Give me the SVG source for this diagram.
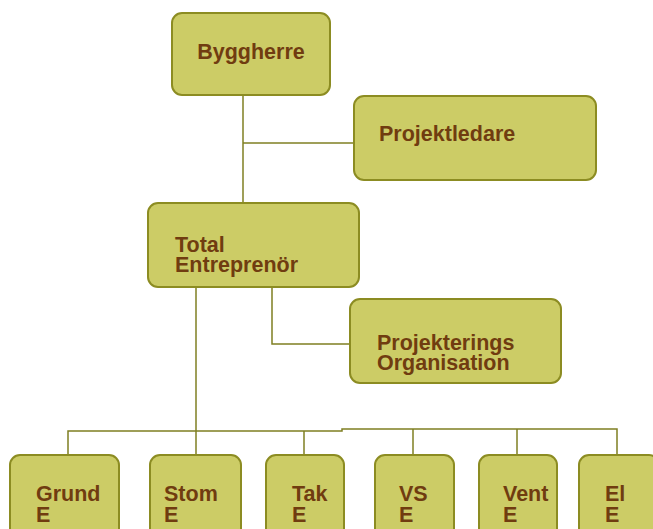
<svg xmlns="http://www.w3.org/2000/svg" width="653" height="529" viewBox="0 0 653 529">
<style>
.box{fill:#CCCC66;stroke:#8C8C22;stroke-width:2}
.t{font-family:"Liberation Sans",Arial,sans-serif;font-weight:bold;font-size:21.5px;fill:#703C10}
.c{fill:none;stroke:#7F7F22;stroke-width:1.5}
</style>
<rect width="653" height="529" fill="#FFFFFF"/>
<g id="connectors">
<path class="c" d="M243 95V203"/>
<path class="c" d="M243 143H354"/>
<path class="c" d="M272 287V344H350"/>
<path class="c" d="M196 287V455"/>
<path class="c" d="M68 455V431H342V429H617V455"/>
<path class="c" d="M304 431V455"/>
<path class="c" d="M413 429V455"/>
<path class="c" d="M517 429V455"/>
</g>
<g id="byggherre"><rect class="box" x="172" y="13" width="158" height="82" rx="10"/><text class="t" x="251" y="59" text-anchor="middle">Byggherre</text></g>
<g id="projektledare"><rect class="box" x="354" y="96" width="242" height="84" rx="10"/><text class="t" x="379" y="141">Projektledare</text></g>
<g id="total"><rect class="box" x="148" y="203" width="211" height="84" rx="10"/><text class="t" x="175" y="252">Total<tspan x="175" dy="20">Entreprenör</tspan></text></g>
<g id="projektering"><rect class="box" x="350" y="299" width="211" height="84" rx="10"/><text class="t" x="377" y="350">Projekterings<tspan x="377" dy="20">Organisation</tspan></text></g>
<g id="grund"><rect class="box" x="10" y="455" width="109" height="90" rx="10"/><text class="t" x="36" y="501">Grund<tspan x="36" dy="21">E</tspan></text></g>
<g id="stom"><rect class="box" x="150" y="455" width="91" height="90" rx="10"/><text class="t" x="164" y="501">Stom<tspan x="164" dy="21">E</tspan></text></g>
<g id="tak"><rect class="box" x="266" y="455" width="78" height="90" rx="10"/><text class="t" x="292" y="501">Tak<tspan x="292" dy="21">E</tspan></text></g>
<g id="vs"><rect class="box" x="375" y="455" width="79" height="90" rx="10"/><text class="t" x="399" y="501">VS<tspan x="399" dy="21">E</tspan></text></g>
<g id="vent"><rect class="box" x="479" y="455" width="78" height="90" rx="10"/><text class="t" x="503" y="501">Vent<tspan x="503" dy="21">E</tspan></text></g>
<g id="el"><rect class="box" x="579" y="455" width="80" height="90" rx="10"/><text class="t" x="605" y="501">El<tspan x="605" dy="21">E</tspan></text></g>
</svg>
